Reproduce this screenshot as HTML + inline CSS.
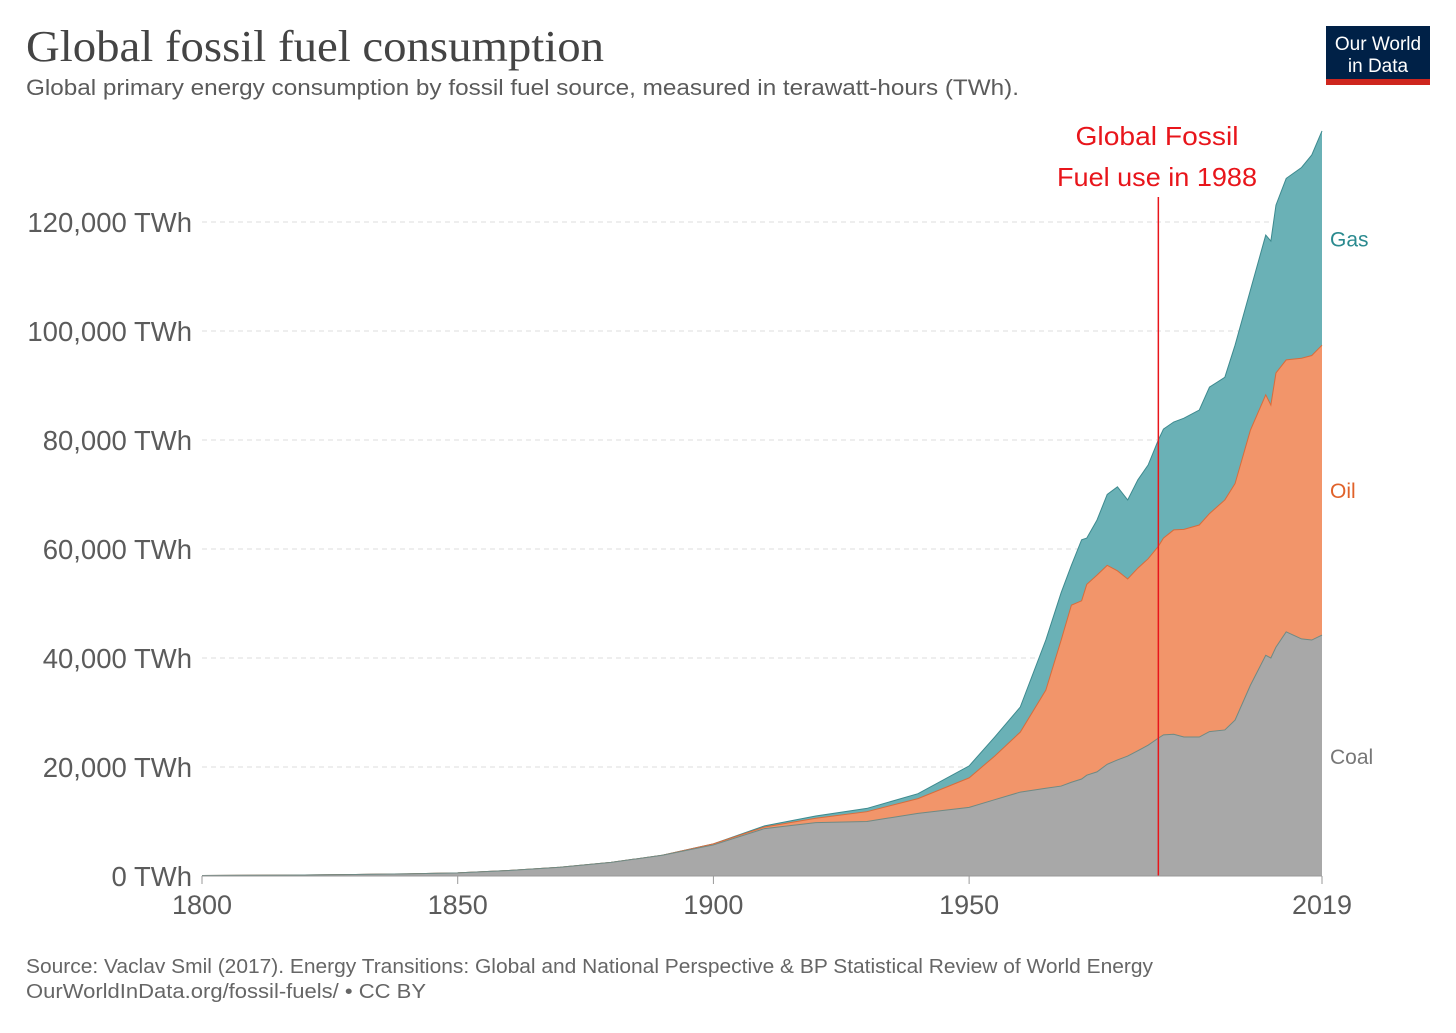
<!DOCTYPE html>
<html><head><meta charset="utf-8"><style>
body{margin:0;background:#fff;width:1456px;height:1028px;overflow:hidden;font-family:"Liberation Sans",sans-serif;}
</style></head><body>
<svg width="1456" height="1028" xmlns="http://www.w3.org/2000/svg">
<text x="26" y="61" font-family="Liberation Serif,serif" font-size="44" fill="#444" textLength="578" lengthAdjust="spacingAndGlyphs">Global fossil fuel consumption</text>
<text x="26" y="95" font-size="22" fill="#5b5b5b" textLength="993" lengthAdjust="spacingAndGlyphs">Global primary energy consumption by fossil fuel source, measured in terawatt-hours (TWh).</text>
<g>
<rect x="1326" y="26" width="104" height="59" fill="#002147"/>
<rect x="1326" y="79" width="104" height="6" fill="#ce261e"/>
<text x="1378" y="50" font-size="19" fill="#fff" text-anchor="middle">Our World</text>
<text x="1378" y="72" font-size="19" fill="#fff" text-anchor="middle">in Data</text>
</g>
<g id="grid"></g>
<g id="areas"></g>
<g id="axes"></g>
<text x="26" y="973" font-size="20" fill="#666" textLength="1127" lengthAdjust="spacingAndGlyphs">Source: Vaclav Smil (2017). Energy Transitions: Global and National Perspective &amp; BP Statistical Review of World Energy</text>
<text x="26" y="998" font-size="20" fill="#666" textLength="400" lengthAdjust="spacingAndGlyphs">OurWorldInData.org/fossil-fuels/ • CC BY</text>
</svg>
<script>
const years=[1800,1810,1820,1830,1840,1850,1860,1870,1880,1890,1900,1910,1920,1930,1940,1950,1955,1960,1965,1968,1970,1972,1973,1975,1977,1979,1981,1983,1985,1987,1988,1990,1992,1995,1997,2000,2002,2005,2008,2009,2010,2012,2015,2017,2019];
const coal=[100,130,180,270,400,570,1000,1600,2500,3800,5700,8700,9800,10000,11500,12600,14000,15400,16100,16500,17200,17800,18500,19100,20500,21300,22000,23000,24000,25300,25900,26000,25500,25500,26500,26800,28600,35000,40500,40000,42000,44800,43500,43300,44200];
const oil=[0,0,0,0,0,0,0,0,0,0,200,300,800,1800,2700,5400,8000,11000,18000,26800,32500,32700,35000,36100,36500,34700,32500,33500,34200,35200,36100,37500,38100,38900,40000,42200,43400,46800,47800,46400,50300,49900,51500,52200,53200];
const gas=[0,0,0,0,0,0,0,0,0,0,0,200,400,600,900,2200,3500,4600,9200,8700,7300,11200,8500,10100,13000,15400,14500,16200,17200,19500,20000,19800,20400,21100,23200,22500,25400,25700,29300,30100,30800,33300,35000,36800,39300];
const yTicks=[0,20000,40000,60000,80000,100000,120000];
const xTicks=[1800,1850,1900,1950,2019];
const annotationYear=1987;
const seriesLabels=['Gas','Oil','Coal'];
const labelValues=[117000,70800,22000];
const NS="http://www.w3.org/2000/svg";
const X=y=>202+(y-1800)*(1120/219);
const Y=v=>876-v*(109/20000);
function mk(tag,attrs,parent){const e=document.createElementNS(NS,tag);for(const k in attrs)e.setAttribute(k,attrs[k]);parent.appendChild(e);return e;}
const grid=document.getElementById('grid'),areas=document.getElementById('areas'),axes=document.getElementById('axes');
yTicks.forEach(v=>{
 if(v>0){const l=mk('line',{x1:202,x2:1322,y1:Y(v),y2:Y(v),stroke:'#ddd','stroke-dasharray':'5,4'},grid);
 
 }
 const t=mk('text',{x:192,y:Y(v)+10,'font-size':27.5,fill:'#5b5b5b','text-anchor':'end'},axes);
 t.textContent=v.toLocaleString('en-US')+' TWh';
 
 
});
const c1=coal,c2=coal.map((v,i)=>v+oil[i]),c3=c2.map((v,i)=>v+gas[i]);
function area(top,bot,fill,stroke,name){
 let d='M'+years.map((y,i)=>X(y)+','+Y(top[i])).join('L');
 for(let i=years.length-1;i>=0;i--)d+='L'+X(years[i])+','+Y(bot[i]);
 const p=mk('path',{d:d+'Z',fill:fill},areas);
 
 
 mk('path',{d:'M'+years.map((y,i)=>X(y)+','+Y(top[i])).join('L'),fill:'none',stroke:stroke,'stroke-width':1},areas);
}
const zero=years.map(()=>0);
area(c3,c2,'#6ab1b6','#3d8a8f','gas-area');
area(c2,c1,'#f2956a','#d86c3c','oil-area');
area(c1,zero,'#a8a8a8','#6f8a84','coal-area');
const al=mk('line',{x1:X(annotationYear),x2:X(annotationYear),y1:197,y2:876,stroke:'#e8151b','stroke-width':1.5},axes);


[['Global Fossil',163],['Fuel use in 1988',200]].forEach(([s,w],i)=>{const t=mk('text',{x:1157,y:145+i*41,'font-size':26,fill:'#e8151b','text-anchor':'middle',textLength:w,lengthAdjust:'spacingAndGlyphs'},axes);t.textContent=s;
 
 });
mk('line',{x1:202,x2:1322,y1:876,y2:876,stroke:'#999'},axes);
xTicks.forEach(y=>{mk('line',{x1:X(y),x2:X(y),y1:876,y2:884,stroke:'#999'},axes);
 const t=mk('text',{x:X(y),y:914,'font-size':27,fill:'#5b5b5b','text-anchor':'middle'},axes);t.textContent=y;
 
 });
const labelColors=['#2a8a8f','#e0622a','#777'];
seriesLabels.forEach((s,i)=>{
 const t=mk('text',{x:1330,y:Y(labelValues[i])+8,'font-size':21,fill:labelColors[i]},axes);t.textContent=s;
 
 });
</script>
</body></html>
